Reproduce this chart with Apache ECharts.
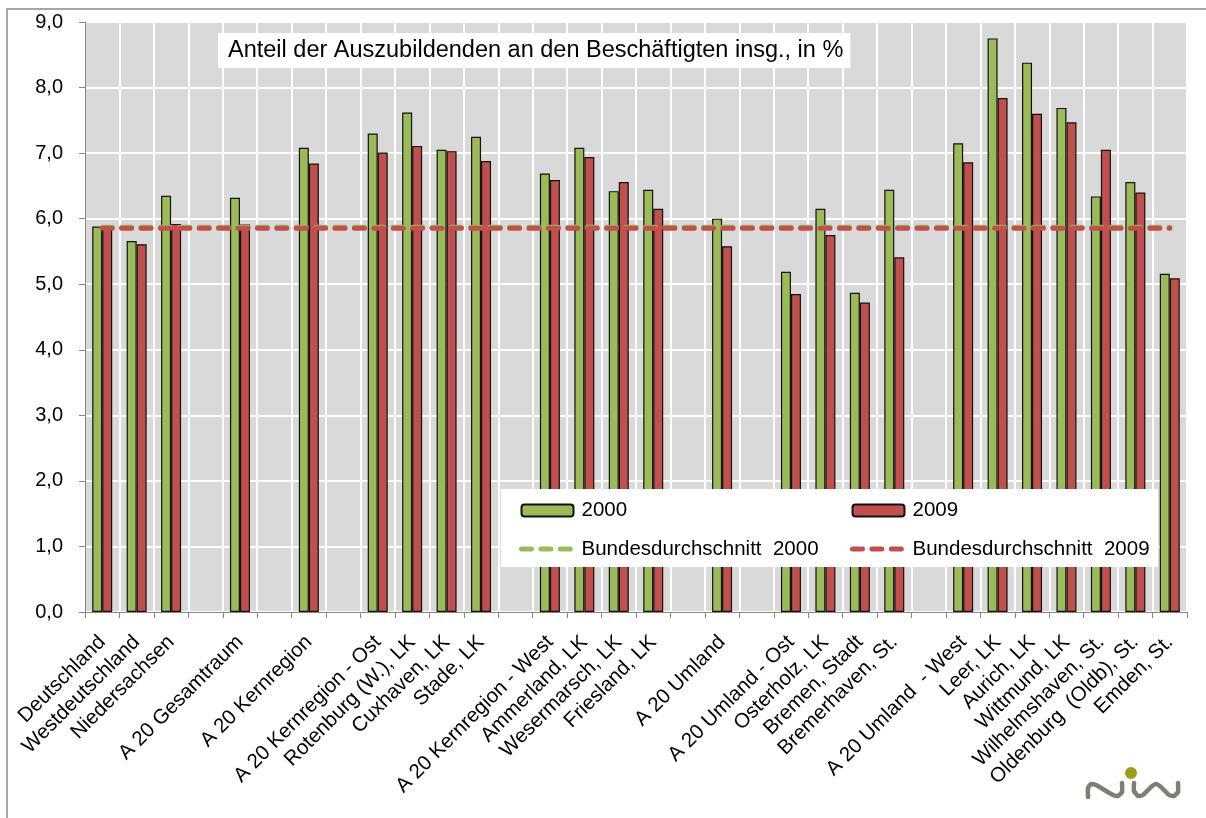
<!DOCTYPE html>
<html>
<head>
<meta charset="utf-8">
<script src="https://cdn.jsdelivr.net/npm/echarts@6/dist/echarts.min.js"></script>
<style>
html,body{margin:0;padding:0;background:#fff;}
#chart{width:1206px;height:818px;}
</style>
</head>
<body>
<div id="chart"></div>
<script>
const categories = ['Deutschland','Westdeutschland','Niedersachsen','','A 20 Gesamtraum','','A 20 Kernregion','',
  'A 20 Kernregion - Ost','Rotenburg (W.), LK','Cuxhaven, LK','Stade, LK','',
  'A 20 Kernregion - West','Ammerland, LK','Wesermarsch, LK','Friesland, LK','',
  'A 20 Umland','','A 20 Umland - Ost','Osterholz, LK','Bremen, Stadt','Bremerhaven, St.','',
  'A 20 Umland  - West','Leer, LK','Aurich, LK','Wittmund, LK','Wilhelmshaven, St.','Oldenburg  (Oldb), St.','Emden, St.'];
const values2000 = [5.88,5.66,6.35,null,6.32,null,7.08,null,7.30,7.62,7.05,7.25,null,6.69,7.08,6.42,6.44,null,6.00,null,5.19,6.15,4.87,6.44,null,7.15,8.75,8.38,7.69,6.34,6.56,5.16];
const values2009 = [5.86,5.61,5.92,null,5.91,null,6.84,null,7.01,7.11,7.03,6.88,null,6.59,6.94,6.56,6.15,null,5.58,null,4.85,5.75,4.72,5.41,null,6.86,7.84,7.60,7.47,7.05,6.40,5.09];
const avg2000 = 5.87;
const avg2009 = 5.855;
const yTicks = [0,1,2,3,4,5,6,7,8,9];
const seriesNames = ['2000','2009','Bundesdurchschnitt  2000','Bundesdurchschnitt  2009'];
const titleText = 'Anteil der Auszubildenden an den Beschäftigten insg., in %';

const GREEN = '#9BBB59', RED = '#C0504D';
const FONT = 'Liberation Sans';
const chart = echarts.init(document.getElementById('chart'));
const dash = {width:5, type:[10,9.4], cap:'round'};
const lastIdx = categories.length - 1;
const logoStroke = {fill:'none', stroke:'#7E7F74', lineWidth:4.5, lineCap:'round', lineJoin:'round'};
const legendCommon = {orient:'vertical', top:495, itemWidth:52, itemHeight:12, itemGap:17.5, z:10,
  textStyle:{fontFamily:FONT, fontSize:20.5, color:'#000', padding:[0,0,0,3]},
  lineStyle:{width:5, type:[10,9.4], cap:'round'}};

chart.setOption({
  animation:false,
  backgroundColor:'#fff',
  textStyle:{fontFamily:FONT},
  title:{
    text:titleText, left:218, top:33,
    backgroundColor:'#fff', padding:[5,7,4,10],
    textStyle:{fontFamily:FONT, fontSize:23.5, fontWeight:'normal', color:'#000', lineHeight:26}
  },
  grid:{left:85, top:22, right:19, bottom:206, show:true, backgroundColor:'#D9D9D9', borderWidth:0},
  legend:[
    Object.assign({left:514, data:[{name:seriesNames[0]}, {name:seriesNames[2], itemStyle:{opacity:0}}]}, legendCommon),
    Object.assign({left:845, data:[{name:seriesNames[1]}, {name:seriesNames[3], itemStyle:{opacity:0}}]}, legendCommon)
  ],
  xAxis:{
    type:'category', data:categories,
    axisLine:{show:true, lineStyle:{color:'#868686', width:1}},
    axisTick:{show:true, interval:0, length:6, lineStyle:{color:'#868686'}},
    splitLine:{show:true, interval:0, lineStyle:{color:'#fff', width:2}},
    axisLabel:{interval:0, rotate:45, fontSize:20.5, color:'#000', fontFamily:FONT, margin:27}
  },
  yAxis:{
    type:'value', min:yTicks[0], max:yTicks[yTicks.length-1], interval:1,
    axisLine:{show:true, lineStyle:{color:'#868686', width:1}},
    axisTick:{show:true, length:6, lineStyle:{color:'#868686'}},
    splitLine:{show:true, lineStyle:{color:'#fff', width:2}},
    axisLabel:{fontSize:20, color:'#000', fontFamily:FONT, margin:22,
      formatter:v=>v.toFixed(1).replace('.',',')}
  },
  graphic:[
    {type:'rect', shape:{x:501, y:489, width:657, height:78}, style:{fill:'#fff'}, z:3},
    {type:'rect', shape:{x:7, y:9, width:1400, height:1000}, style:{fill:'none', stroke:'#A6A6A6', lineWidth:2}, z:100, silent:true},
    {type:'circle', shape:{cx:1131, cy:773, r:6}, style:{fill:'#9C9E1D'}, z:100},
    {type:'polyline', shape:{points:[[1088,797],[1088,788],[1091,784],[1096,785],[1113,795],[1118,796],[1122,792],[1122,783]], smooth:0.15},
     style:logoStroke, z:100},
    {type:'polyline', shape:{points:[[1134,783],[1134,791],[1138,796],[1143,795],[1151,787],[1156,784],[1161,787],[1169,795],[1174,796],[1178,792],[1178,783]], smooth:0.15},
     style:logoStroke, z:100}
  ],
  series:[
    {name:seriesNames[0], type:'bar', data:values2000, barWidth:10, barGap:'0%',
     itemStyle:{color:GREEN, borderColor:'#111', borderWidth:1.2}},
    {name:seriesNames[1], type:'bar', data:values2009, barWidth:10, barGap:'0%',
     itemStyle:{color:RED, borderColor:'#111', borderWidth:1.2}},
    {name:seriesNames[2], type:'line', data:[[0,avg2000],[lastIdx,avg2000]], symbol:'none',
     lineStyle:Object.assign({color:GREEN}, dash), itemStyle:{color:GREEN}},
    {name:seriesNames[3], type:'line', data:[[0,avg2009],[lastIdx,avg2009]], symbol:'none',
     lineStyle:Object.assign({color:RED}, dash), itemStyle:{color:RED}}
  ]
});
</script>
</body>
</html>
